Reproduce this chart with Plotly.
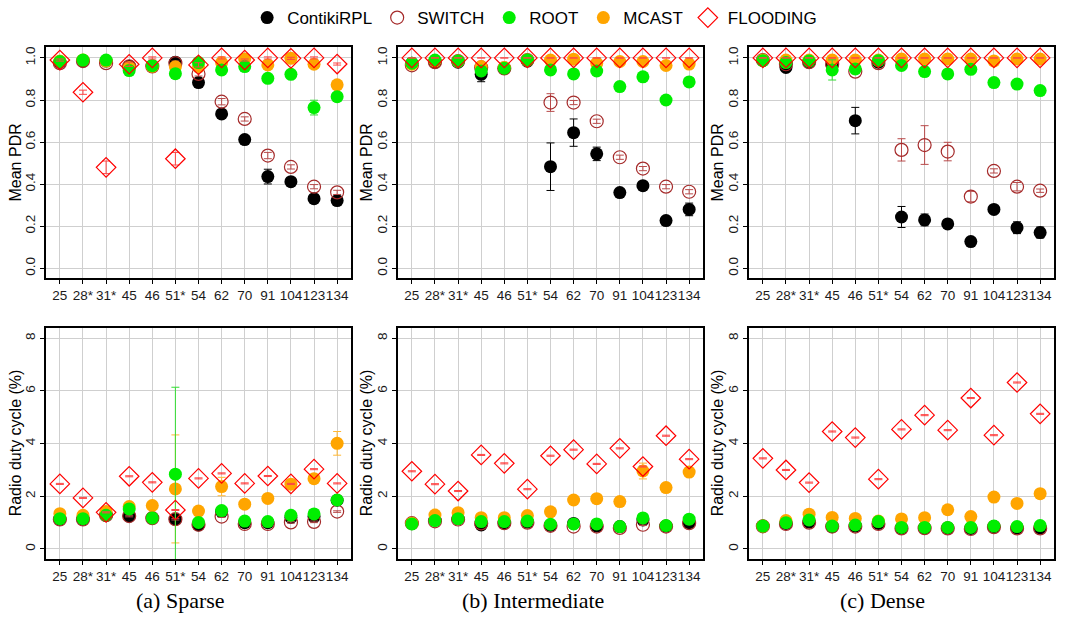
import plotly.graph_objects as go

# ---------------- data ----------------
categories = ["25", "28*", "31*", "45", "46", "51*", "54", "62", "70", "91", "104", "123", "134"]
series_names = ["ContikiRPL", "SWITCH", "ROOT", "MCAST", "FLOODING"]
panel_titles = ["(a) Sparse", "(b) Intermediate", "(c) Dense"]

# Mean PDR - Sparse
pdr_sparse_contiki = [0.98, 0.985, 0.985, 0.96, 0.96, 0.98, 0.883, 0.734, 0.612, 0.436, 0.412, 0.331, 0.322]
pdr_sparse_switch = [0.975, 0.985, 0.975, 0.96, 0.96, 0.975, 0.924, 0.792, 0.71, 0.536, 0.482, 0.388, 0.361]
pdr_sparse_root = [0.983, 0.99, 0.99, 0.94, 0.963, 0.925, 0.978, 0.943, 0.959, 0.903, 0.922, 0.764, 0.816]
pdr_sparse_mcast = [0.985, 0.99, 0.985, 0.955, 0.96, 0.958, 0.959, 0.978, 0.995, 0.967, 0.998, 0.97, 0.872]
pdr_sparse_flood = [0.99, 0.837, 0.48, 0.97, 1.0, 0.521, 0.967, 1.0, 0.99, 1.0, 0.998, 1.0, 0.971]
pdr_sparse_contiki_err = [0.01, 0.01, 0.005, 0.01, 0.01, 0.01, 0.01, 0.005, 0.005, 0.035, 0.01, 0.01, 0.01]
pdr_sparse_switch_err = [0.01, 0.005, 0.01, 0.01, 0.005, 0.01, 0.01, 0.015, 0.01, 0.015, 0.01, 0.01, 0.01]
pdr_sparse_root_err = [0.01, 0.01, 0.01, 0.01, 0.01, 0.01, 0.01, 0.01, 0.01, 0.01, 0.01, 0.035, 0.01]
pdr_sparse_mcast_err = [0.005] * 13
pdr_sparse_flood_err = [0.005, 0.01, 0.03, 0.01, 0.005, 0.03, 0.01, 0.005, 0.005, 0.005, 0.005, 0.005, 0.005]

# Mean PDR - Intermediate
pdr_inter_contiki = [0.975, 0.98, 0.98, 0.922, 0.95, 0.985, 0.483, 0.645, 0.544, 0.36, 0.393, 0.227, 0.28]
pdr_inter_switch = [0.965, 0.98, 0.985, 0.955, 0.95, 0.99, 0.788, 0.788, 0.699, 0.528, 0.474, 0.388, 0.364]
pdr_inter_root = [0.975, 0.99, 0.985, 0.938, 0.951, 0.99, 0.943, 0.924, 0.938, 0.864, 0.91, 0.80, 0.886]
pdr_inter_mcast = [0.97, 0.985, 0.985, 0.959, 0.955, 0.99, 0.99, 0.994, 0.975, 0.983, 0.983, 0.964, 0.971]
pdr_inter_flood = [1.0] * 13
pdr_inter_contiki_err = [0.01, 0.01, 0.01, 0.035, 0.01, 0.01, 0.113, 0.065, 0.032, 0.005, 0.005, 0.005, 0.03]
pdr_inter_switch_err = [0.01, 0.01, 0.01, 0.01, 0.01, 0.005, 0.042, 0.01, 0.01, 0.01, 0.01, 0.01, 0.01]
pdr_inter_root_err = [0.01] * 13
pdr_inter_mcast_err = [0.005] * 13
pdr_inter_flood_err = [0.0] * 13

# Mean PDR - Dense
pdr_dense_contiki = [0.99, 0.955, 0.98, 0.965, 0.702, 0.98, 0.244, 0.23, 0.211, 0.127, 0.28, 0.193, 0.17]
pdr_dense_switch = [0.99, 0.97, 0.98, 0.97, 0.935, 0.975, 0.563, 0.586, 0.555, 0.341, 0.463, 0.388, 0.369]
pdr_dense_root = [0.987, 0.978, 0.985, 0.943, 0.948, 0.987, 0.964, 0.935, 0.924, 0.946, 0.883, 0.876, 0.845]
pdr_dense_mcast = [0.99, 0.99, 0.99, 0.99, 0.99, 0.99, 0.995, 0.995, 0.995, 0.995, 0.986, 0.995, 0.995]
pdr_dense_flood = [1.0] * 13
pdr_dense_contiki_err = [0.005, 0.01, 0.01, 0.02, 0.063, 0.005, 0.05, 0.028, 0.005, 0.005, 0.005, 0.028, 0.026]
pdr_dense_switch_err = [0.005, 0.01, 0.005, 0.01, 0.01, 0.005, 0.053, 0.092, 0.044, 0.025, 0.01, 0.02, 0.008]
pdr_dense_root_err = [0.005, 0.02, 0.005, 0.048, 0.02, 0.005, 0.005, 0.005, 0.005, 0.005, 0.005, 0.005, 0.005]
pdr_dense_mcast_err = [0.0] * 13
pdr_dense_flood_err = [0.0] * 13

# Radio duty cycle (%) - Sparse
duty_sparse_contiki = [1.13, 1.13, 1.28, 1.25, 1.18, 1.13, 0.91, 1.42, 1.0, 1.0, 1.2, 1.23, 1.85]
duty_sparse_switch = [1.12, 1.12, 1.28, 1.25, 1.17, 1.13, 0.92, 1.23, 0.95, 0.95, 1.01, 1.03, 1.42]
duty_sparse_root = [1.15, 1.15, 1.28, 1.52, 1.18, 2.84, 1.01, 1.46, 1.06, 1.04, 1.28, 1.33, 1.86]
duty_sparse_mcast = [1.34, 1.28, 1.42, 1.61, 1.65, 2.28, 1.44, 2.37, 1.70, 1.92, 2.46, 2.67, 4.01]
duty_sparse_flood = [2.47, 1.94, 1.39, 2.76, 2.53, 1.48, 2.68, 2.87, 2.49, 2.77, 2.47, 3.03, 2.49]
duty_sparse_contiki_err = [0.05, 0.08, 0.05, 0.05, 0.05, 0.1, 0.05, 0.12, 0.05, 0.05, 0.05, 0.08, 0.12]
duty_sparse_switch_err = [0.03] * 13
duty_sparse_root_err = [0.05, 0.05, 0.05, 0.1, 0.05, 3.3, 0.05, 0.1, 0.05, 0.05, 0.05, 0.05, 0.1]
duty_sparse_mcast_err = [0.05, 0.05, 0.05, 0.1, 0.05, 2.05, 0.1, 0.35, 0.05, 0.05, 0.05, 0.05, 0.45]
duty_sparse_flood_err = [0.02] * 13

# Radio duty cycle (%) - Intermediate
duty_inter_contiki = [0.97, 1.1, 1.15, 0.91, 1.0, 1.02, 0.9, 0.97, 0.87, 0.85, 1.1, 0.87, 1.0]
duty_inter_switch = [0.98, 1.05, 1.12, 0.97, 0.98, 1.0, 0.88, 0.85, 0.85, 0.8, 0.92, 0.85, 0.98]
duty_inter_root = [0.95, 1.08, 1.15, 1.04, 1.04, 1.06, 0.94, 0.95, 0.95, 0.85, 1.18, 0.89, 1.13]
duty_inter_mcast = [0.98, 1.29, 1.38, 1.19, 1.19, 1.27, 1.41, 1.86, 1.91, 1.80, 2.96, 2.33, 2.92]
duty_inter_flood = [2.95, 2.46, 2.20, 3.57, 3.25, 2.27, 3.54, 3.77, 3.23, 3.82, 3.13, 4.30, 3.41]
duty_inter_contiki_err = [0.05] * 13
duty_inter_switch_err = [0.03] * 13
duty_inter_root_err = [0.05] * 13
duty_inter_mcast_err = [0.03, 0.05, 0.05, 0.05, 0.05, 0.05, 0.05, 0.05, 0.05, 0.05, 0.3, 0.05, 0.05]
duty_inter_flood_err = [0.02] * 13

# Radio duty cycle (%) - Dense
duty_dense_contiki = [0.87, 0.97, 1.02, 0.85, 0.87, 0.97, 0.8, 0.8, 0.8, 0.78, 0.85, 0.8, 0.8]
duty_dense_switch = [0.86, 0.95, 1.0, 0.85, 0.85, 0.95, 0.78, 0.79, 0.78, 0.76, 0.83, 0.78, 0.78]
duty_dense_root = [0.87, 1.0, 1.1, 0.87, 0.91, 1.04, 0.82, 0.82, 0.82, 0.82, 0.87, 0.85, 0.89]
duty_dense_mcast = [0.87, 1.08, 1.32, 1.2, 1.16, 1.06, 1.14, 1.19, 1.49, 1.23, 1.97, 1.73, 2.10]
duty_dense_flood = [3.44, 3.0, 2.52, 4.46, 4.23, 2.65, 4.54, 5.08, 4.51, 5.73, 4.32, 6.32, 5.13]
duty_dense_contiki_err = [0.03] * 13
duty_dense_switch_err = [0.03] * 13
duty_dense_root_err = [0.05] * 13
duty_dense_mcast_err = [0.03] * 13
duty_dense_flood_err = [0.02] * 13

# ---------------- assembly ----------------
pdr_panels = [
    [pdr_sparse_contiki, pdr_sparse_switch, pdr_sparse_mcast, pdr_sparse_root, pdr_sparse_flood],
    [pdr_inter_contiki, pdr_inter_switch, pdr_inter_mcast, pdr_inter_root, pdr_inter_flood],
    [pdr_dense_contiki, pdr_dense_switch, pdr_dense_mcast, pdr_dense_root, pdr_dense_flood],
]
pdr_errs = [
    [pdr_sparse_contiki_err, pdr_sparse_switch_err, pdr_sparse_mcast_err, pdr_sparse_root_err, pdr_sparse_flood_err],
    [pdr_inter_contiki_err, pdr_inter_switch_err, pdr_inter_mcast_err, pdr_inter_root_err, pdr_inter_flood_err],
    [pdr_dense_contiki_err, pdr_dense_switch_err, pdr_dense_mcast_err, pdr_dense_root_err, pdr_dense_flood_err],
]
duty_panels = [
    [duty_sparse_contiki, duty_sparse_switch, duty_sparse_mcast, duty_sparse_root, duty_sparse_flood],
    [duty_inter_contiki, duty_inter_switch, duty_inter_mcast, duty_inter_root, duty_inter_flood],
    [duty_dense_contiki, duty_dense_switch, duty_dense_mcast, duty_dense_root, duty_dense_flood],
]
duty_errs = [
    [duty_sparse_contiki_err, duty_sparse_switch_err, duty_sparse_mcast_err, duty_sparse_root_err, duty_sparse_flood_err],
    [duty_inter_contiki_err, duty_inter_switch_err, duty_inter_mcast_err, duty_inter_root_err, duty_inter_flood_err],
    [duty_dense_contiki_err, duty_dense_switch_err, duty_dense_mcast_err, duty_dense_root_err, duty_dense_flood_err],
]

# drawing order: ContikiRPL, SWITCH, MCAST, ROOT, FLOODING
draw_names = ["ContikiRPL", "SWITCH", "MCAST", "ROOT", "FLOODING"]
styles = {
    "ContikiRPL": dict(symbol="circle", color="#000000", size=13, line=0, ecol="#000000"),
    "SWITCH": dict(symbol="circle-open", color="#A52A2A", size=13, line=1.2, ecol="#B84A4A"),
    "ROOT": dict(symbol="circle", color="#00EE00", size=13, line=0, ecol="#33DD33"),
    "MCAST": dict(symbol="circle", color="#FFA500", size=13, line=0, ecol="#FFB733"),
    "FLOODING": dict(symbol="diamond-open", color="#FF0000", size=15, line=1.2, ecol="#FF4444"),
}
legend_rank = {n: i for i, n in enumerate(series_names)}

W, H = 1065, 617
xdom_px = [(46, 351), (398, 703), (749, 1054)]
top_px = (47, 278)
bot_px = (327.7, 559)

fig = go.Figure()
FONT = "Liberation Sans, Arial, sans-serif"

for p in range(3):
    for row, (panels, errs) in enumerate([(pdr_panels, pdr_errs), (duty_panels, duty_errs)]):
        idx = p + 1 + row * 3
        xa = "x" if idx == 1 else f"x{idx}"
        ya = "y" if idx == 1 else f"y{idx}"
        for k, name in enumerate(draw_names):
            st = styles[name]
            vals = panels[p][k]
            err = errs[p][k]
            fig.add_trace(go.Scatter(
                x=categories, y=vals, xaxis=xa, yaxis=ya, mode="markers",
                name=name, legendgroup=name, legendrank=legend_rank[name],
                showlegend=(idx == 1),
                marker=dict(symbol=st["symbol"], color=st["color"], size=st["size"],
                            line=dict(width=st["line"], color=st["color"])),
                error_y=dict(type="data", array=err, visible=True, color=st["ecol"],
                             thickness=1, width=4),
            ))

layout = dict(
    width=W, height=H, margin=dict(l=0, r=0, t=0, b=0),
    paper_bgcolor="white", plot_bgcolor="white",
    font=dict(family=FONT, color="#111111", size=13.5),
    showlegend=True,
    legend=dict(orientation="h", x=0.502, xanchor="center", y=1.0, yanchor="top",
                font=dict(size=17, family=FONT, color="#000000"), itemwidth=30,
                tracegroupgap=0, bgcolor="rgba(0,0,0,0)"),
)

axis_common = dict(showline=True, mirror=True, linecolor="#000000", linewidth=1.5,
                   showgrid=True, gridcolor="#CFCFCF", gridwidth=1.3, zeroline=False,
                   ticks="outside", ticklen=4, tickcolor="#000000", tickwidth=1,
                   tickfont=dict(size=13.5, family=FONT, color="#1a1a1a"))

for p in range(3):
    x0, x1 = xdom_px[p]
    for row in range(2):
        idx = p + 1 + row * 3
        ypx = top_px if row == 0 else bot_px
        xname = "xaxis" if idx == 1 else f"xaxis{idx}"
        yname = "yaxis" if idx == 1 else f"yaxis{idx}"
        ya = "y" if idx == 1 else f"y{idx}"
        xa = "x" if idx == 1 else f"x{idx}"
        layout[xname] = dict(axis_common, domain=[x0 / W, x1 / W], anchor=ya,
                             type="category", categoryorder="array", categoryarray=categories,
                             range=[-0.6, 12.6], tickangle=0)
        if row == 0:
            layout[yname] = dict(axis_common, domain=[1 - ypx[1] / H, 1 - ypx[0] / H], anchor=xa,
                                 range=[-0.046, 1.052], tickvals=[0, 0.2, 0.4, 0.6, 0.8, 1.0],
                                 ticktext=["0.0", "0.2", "0.4", "0.6", "0.8", "1.0"], tickangle=-90)
        else:
            layout[yname] = dict(axis_common, domain=[1 - ypx[1] / H, 1 - ypx[0] / H], anchor=xa,
                                 range=[-0.38, 8.4], tickvals=[0, 2, 4, 6, 8],
                                 ticktext=["0", "2", "4", "6", "8"], tickangle=-90)

fig.update_layout(**layout)

# axis titles and panel captions
title_x_px = [15, 366, 717]
caption_x_px = [180, 533, 882]
for p in range(3):
    fig.add_annotation(text="Mean PDR", xref="paper", yref="paper",
                       x=title_x_px[p] / W, y=1 - (top_px[0] + top_px[1]) / 2 / H,
                       textangle=-90, showarrow=False, xanchor="center", yanchor="middle",
                       font=dict(size=16, family=FONT, color="#000000"))
    fig.add_annotation(text="Radio duty cycle (%)", xref="paper", yref="paper",
                       x=title_x_px[p] / W, y=1 - (bot_px[0] + bot_px[1]) / 2 / H,
                       textangle=-90, showarrow=False, xanchor="center", yanchor="middle",
                       font=dict(size=16, family=FONT, color="#000000"))
    fig.add_annotation(text=panel_titles[p], xref="paper", yref="paper",
                       x=caption_x_px[p] / W, y=1 - 600 / H,
                       showarrow=False, xanchor="center", yanchor="middle",
                       font=dict(size=22, family="Liberation Serif, Times New Roman, serif", color="#000000"))

fig.write_html("out.html")
